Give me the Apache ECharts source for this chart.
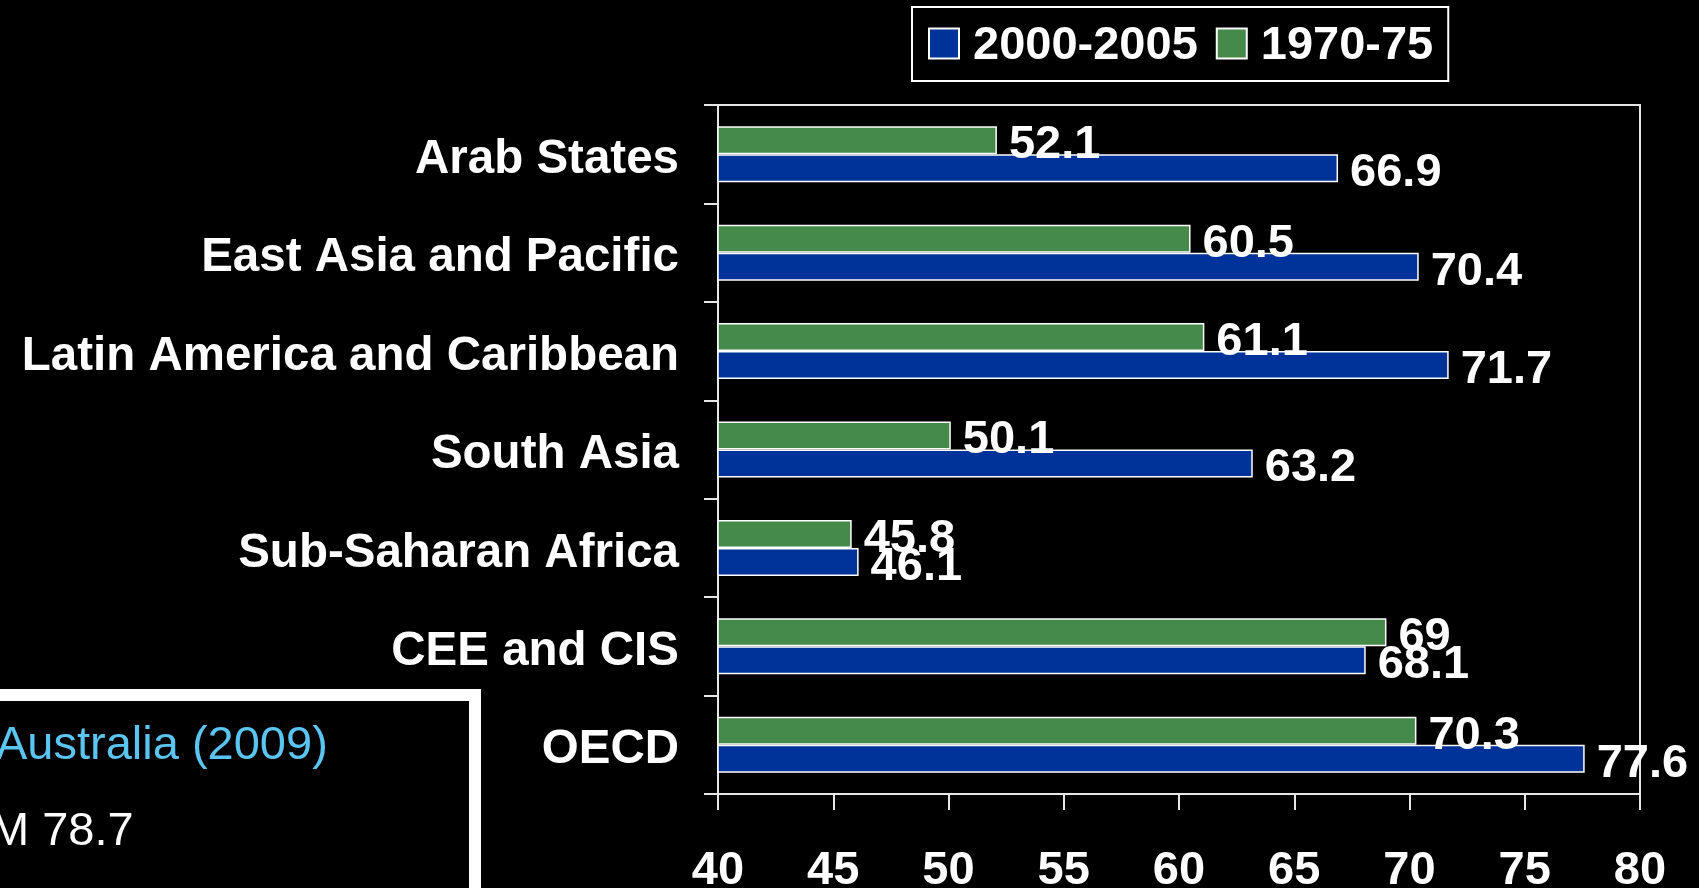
<!DOCTYPE html>
<html>
<head>
<meta charset="utf-8">
<script src="https://cdn.jsdelivr.net/npm/echarts@6/dist/echarts.min.js"></script>
<style>
html,body{margin:0;padding:0;background:#000;}
#c{width:1699px;height:888px;}
</style>
</head>
<body>
<div id="c"></div>
<script>
const categories = ['Arab States','East Asia and Pacific','Latin America and Caribbean','South Asia','Sub-Saharan Africa','CEE and CIS','OECD'];
const series2000 = [66.9, 70.4, 71.7, 63.2, 46.1, 68.1, 77.6];
const series1970 = [52.1, 60.5, 61.1, 50.1, 45.8, 69, 70.3];
const seriesNames = ['2000-2005', '1970-75'];
const xTicks = {min: 40, max: 80, interval: 5};

const FONT = '"Liberation Sans", Arial, sans-serif';
const chart = echarts.init(document.getElementById('c'));
const labelStyle = {show: true, position: 'right', distance: 12, offset: [0, 5], color: '#fff', fontSize: 47, fontWeight: 'bold', fontFamily: FONT};
chart.setOption({
  backgroundColor: '#000',
  animation: false,
  legend: {
    data: seriesNames,
    left: 912, top: 7,
    padding: [10, 15, 11, 16],
    itemGap: 18,
    itemWidth: 30, itemHeight: 30,
    icon: 'rect',
    borderColor: '#fff', borderWidth: 2,
    formatter: '{t|{name}}',
    textStyle: {color: '#fff', fontSize: 47, fontWeight: 'bold', fontFamily: FONT,
      rich: {t: {color: '#fff', fontSize: 47, fontWeight: 'bold', fontFamily: FONT, lineHeight: 47, padding: [6, 0, 0, 9]}}}
  },
  grid: {left: 718, right: 59, top: 105, bottom: 94, show: true, borderColor: '#e6e6e6', borderWidth: 2, containLabel: false, outerBoundsMode: 'none'},
  xAxis: {
    type: 'value', min: xTicks.min, max: xTicks.max, interval: xTicks.interval,
    splitLine: {show: false},
    axisLine: {show: true, lineStyle: {color: '#e6e6e6', width: 2}},
    axisTick: {show: true, length: 16, lineStyle: {color: '#e6e6e6', width: 2}},
    axisLabel: {color: '#fff', fontSize: 47, fontWeight: 'bold', fontFamily: FONT, margin: 54}
  },
  yAxis: {
    type: 'category', data: categories, inverse: true,
    axisLine: {show: true, lineStyle: {color: '#e6e6e6', width: 2}},
    axisTick: {show: true, length: 14, lineStyle: {color: '#e6e6e6', width: 2}},
    axisLabel: {color: '#fff', fontSize: 47.5, fontWeight: 'bold', fontFamily: FONT, margin: 39,
      formatter: function (v) { return '{t|' + v + '}'; },
      rich: {t: {color: '#fff', fontSize: 47.5, fontWeight: 'bold', fontFamily: FONT, lineHeight: 48, padding: [11, 0, 0, 0]}}}
  },
  series: [
    {name: seriesNames[1], type: 'bar', data: series1970, barWidth: 28, barGap: '0%',
     itemStyle: {color: '#468a4b', borderColor: '#fff', borderWidth: 1.5}, label: labelStyle},
    {name: seriesNames[0], type: 'bar', data: series2000, barWidth: 28, barGap: '0%',
     itemStyle: {color: '#003399', borderColor: '#fff', borderWidth: 1.5}, label: labelStyle}
  ],
  graphic: [
    {type: 'rect', shape: {x: -30, y: 695, width: 505, height: 300}, style: {fill: '#000', stroke: '#fff', lineWidth: 12}, z: 10},
    {type: 'text', x: -4, y: 746, style: {text: 'Australia (2009)', fill: '#5bc5f2', font: '47px ' + FONT, align: 'left', verticalAlign: 'middle'}, z: 11},
    {type: 'text', x: -10, y: 832, style: {text: 'M 78.7', fill: '#fff', font: '47px ' + FONT, align: 'left', verticalAlign: 'middle'}, z: 11}
  ]
});
</script>
</body>
</html>
